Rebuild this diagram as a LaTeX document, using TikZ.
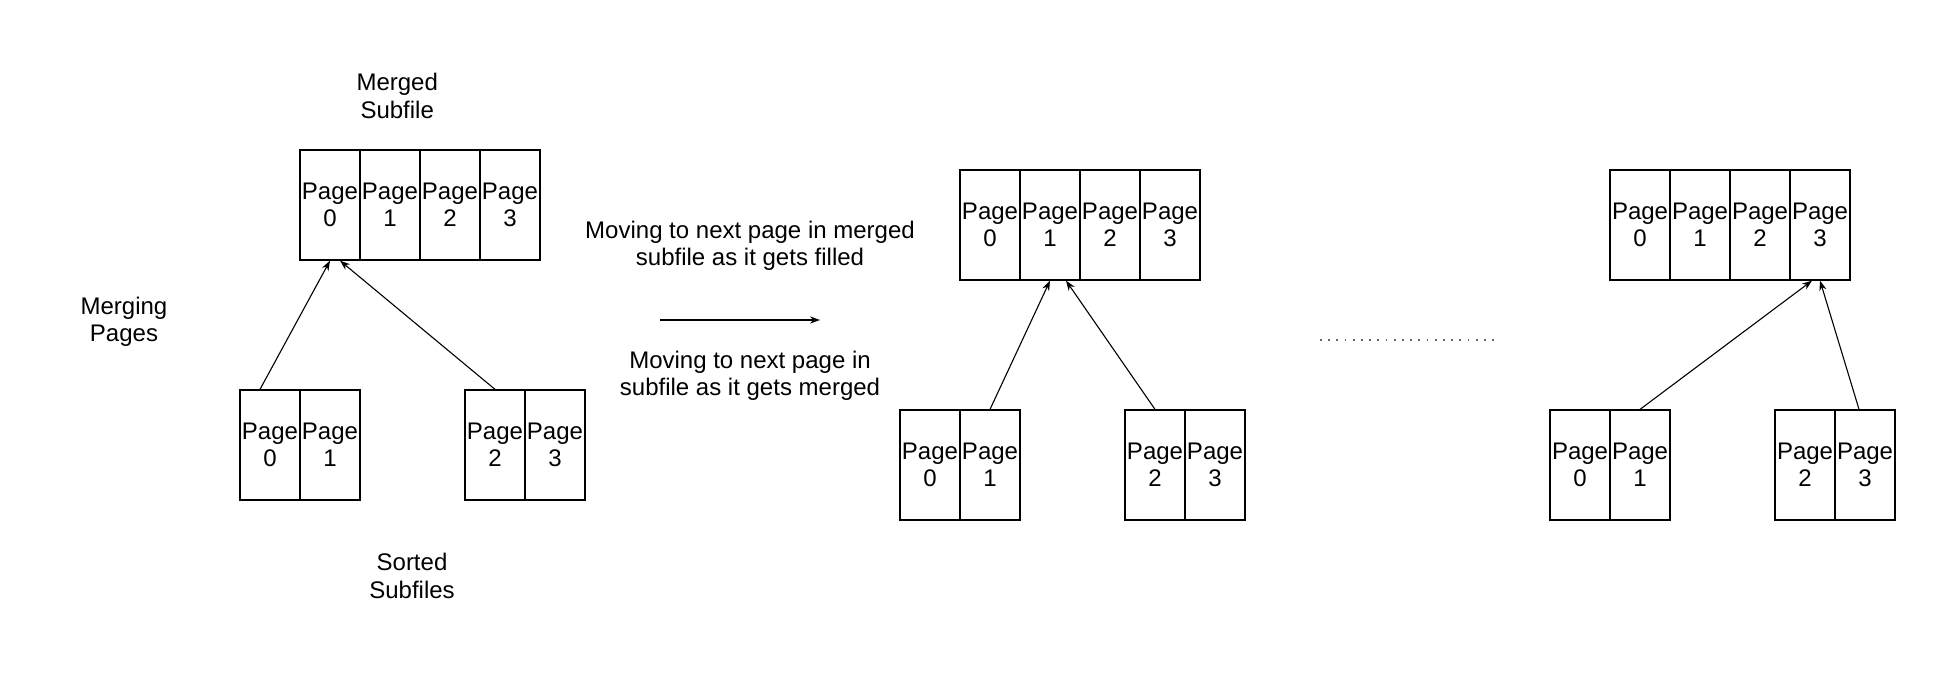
\documentclass[tikz,border=0pt]{standalone}
\usepackage{fontspec}
\setmainfont{Liberation Sans}
\usetikzlibrary{arrows.meta}
\begin{document}
\begin{tikzpicture}[x=1pt,y=-1pt,
  cell/.style={draw,line width=0.65pt,minimum width=30pt,minimum height=55pt,inner sep=0pt,align=center,font=\fontsize{12}{13.7}\selectfont},
  lbl/.style={align=center,inner sep=0pt,font=\fontsize{12}{13.7}\selectfont},
  arr/.style={line width=0.55pt,-{Stealth[length=5pt,width=3.6pt]}},
  dotline/.style={line width=0.9pt,dash pattern=on 0.9pt off 3.2pt,black!60}]
\useasboundingbox (0,0) rectangle (973,340);
% ---- left group ----
\foreach \i/\x in {0/165,1/195,2/225,3/255}{\node[cell] (Lm\i) at (\x,102.5) {Page\\\i};}
\node[cell] (La0) at (135,222.5) {Page\\0};
\node[cell] (La1) at (165,222.5) {Page\\1};
\node[cell] (Lb2) at (247.5,222.5) {Page\\2};
\node[cell] (Lb3) at (277.5,222.5) {Page\\3};
\draw[arr] ([xshift=-5pt]La0.north) -- (Lm0.south);
\draw[arr] (Lb2.north) -- ([xshift=5pt]Lm0.south);
\node[lbl] (ms) at (198.6,48) {Merged\\Subfile};
\node[lbl] (mp) at (62,161) {Merging\\Pages};
\node[lbl] (ss) at (206,288) {Sorted\\Subfiles};
% ---- middle texts and arrow ----
\node[lbl] (t1) at (375,123) {Moving to next page in merged\\subfile as it gets filled};
\node[lbl] (t2) at (375,188) {Moving to next page in\\subfile as it gets merged};
\coordinate (a1) at (330,160);
\coordinate (a2) at (410,160);
\draw[arr] (a1) -- (a2);
% ---- middle group ----
\foreach \i/\x in {0/495,1/525,2/555,3/585}{\node[cell] (Mm\i) at (\x,112.5) {Page\\\i};}
\node[cell] (Ma0) at (465,232.5) {Page\\0};
\node[cell] (Ma1) at (495,232.5) {Page\\1};
\node[cell] (Mb2) at (577.5,232.5) {Page\\2};
\node[cell] (Mb3) at (607.5,232.5) {Page\\3};
\draw[arr] (Ma1.north) -- (Mm1.south);
\draw[arr] (Mb2.north) -- ([xshift=8pt]Mm1.south);
% ---- dots ----
\coordinate (d1) at (660,170);
\coordinate (d2) at (750,170);
\draw[dotline] (d1) -- (d2);
% ---- right group ----
\foreach \i/\x in {0/820,1/850,2/880,3/910}{\node[cell] (Rm\i) at (\x,112.5) {Page\\\i};}
\node[cell] (Ra0) at (790,232.5) {Page\\0};
\node[cell] (Ra1) at (820,232.5) {Page\\1};
\node[cell] (Rb2) at (902.5,232.5) {Page\\2};
\node[cell] (Rb3) at (932.5,232.5) {Page\\3};
\draw[arr] (Ra1.north) -- ([xshift=-4pt]Rm3.south);
\draw[arr] ([xshift=-3pt]Rb3.north) -- (Rm3.south);
\end{tikzpicture}
\end{document}
